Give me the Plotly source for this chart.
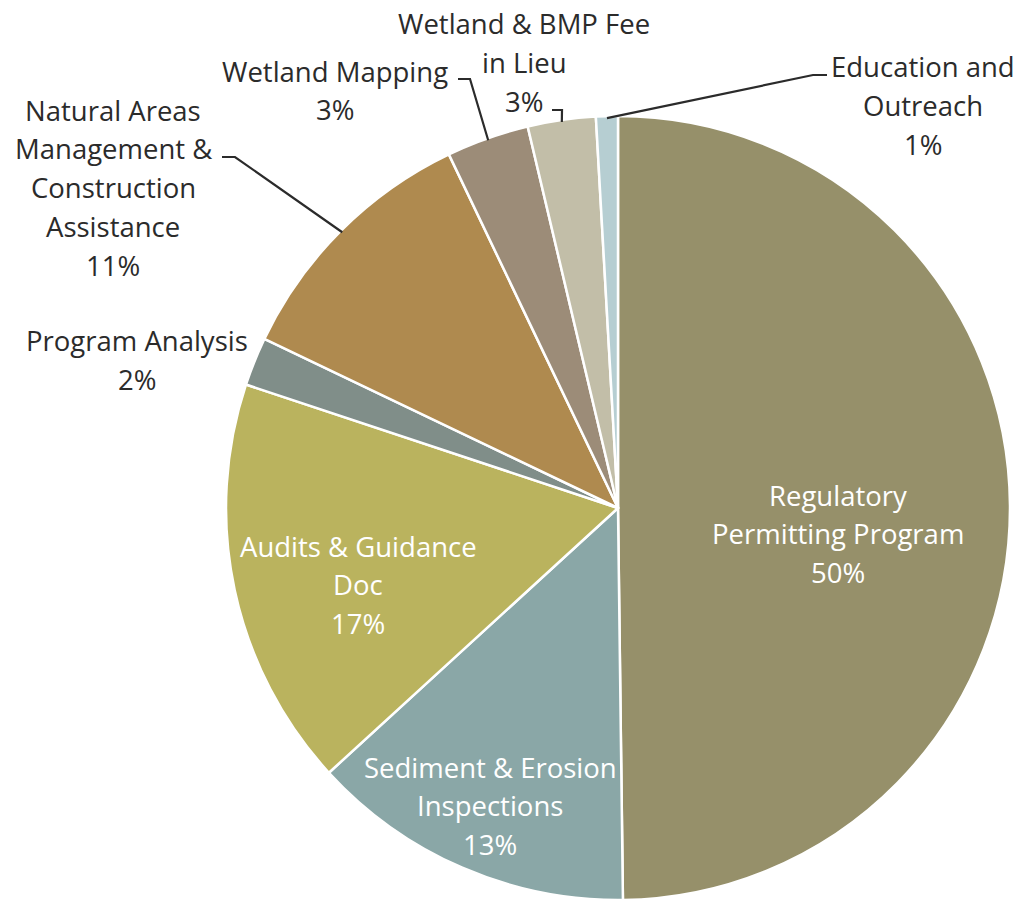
import math
import plotly.graph_objects as go

# ---- data ----
categories = ["Regulatory Permitting Program", "Sediment & Erosion Inspections",
              "Audits & Guidance Doc", "Program Analysis",
              "Natural Areas Management & Construction Assistance",
              "Wetland Mapping", "Wetland & BMP Fee in Lieu", "Education and Outreach"]
values = [49.8, 13.4, 16.9, 2.0, 10.8, 3.4, 2.8, 0.9]
colors = ["#96906A", "#8AA7A7", "#BAB35E", "#808E89", "#AF8A4F", "#9C8C78", "#C2BEA8", "#B6CED2"]
label_lines = [
    ["Regulatory", "Permitting Program"],
    ["Sediment & Erosion", "Inspections"],
    ["Audits & Guidance", "Doc"],
    ["Program Analysis"],
    ["Natural Areas", "Management &", "Construction", "Assistance"],
    ["Wetland Mapping"],
    ["Wetland & BMP Fee", "in Lieu"],
    ["Education and", "Outreach"],
]

W, H = 1018, 900
FONT = "Open Sans"
FS = 27.5
LINE = 38.8

def px(x):
    return x / W

def py(y):
    return 1 - y / H

# pie geometry (pixels)
dom_x = (224, 1012)
dom_y_top = 116
dom_y_bot = 900
cx = (dom_x[0] + dom_x[1]) / 2
r = (dom_y_bot - dom_y_top) / 2 - 2
cy = (dom_y_top + dom_y_bot) / 2

fig = go.Figure(go.Pie(
    labels=categories, values=values, sort=False, direction="clockwise", rotation=0,
    marker=dict(colors=colors, line=dict(color="white", width=2.5)),
    textinfo="none", hoverinfo="label+percent", showlegend=False,
    domain=dict(x=[px(dom_x[0]), px(dom_x[1])], y=[py(dom_y_bot), py(dom_y_top)]),
))

# label layout: (center x, first line y, text colour)
label_pos = [
    (838, 495, "white"),
    (490, 767, "white"),
    (358, 546, "white"),
    (137, 341, "#2B2B2B"),
    (113, 110, "#2B2B2B"),
    (335, 71, "#2B2B2B"),
    (524, 24, "#2B2B2B"),
    (923, 67, "#2B2B2B"),
]

total = sum(values)
annotations = []
for i, (lines, (lx, ly, col)) in enumerate(zip(label_lines, label_pos)):
    pct = f"{round(values[i] / total * 100):.0f}%"
    for k, t in enumerate(lines + [pct]):
        annotations.append(dict(
            x=px(lx), y=py(ly + k * LINE), xref="paper", yref="paper",
            text=t, showarrow=False, xanchor="center", yanchor="middle",
            font=dict(family=FONT, size=FS, color=col)))

# leader lines: (label end x, y, elbow x) for outside labels
leaders = {
    4: (222, 157, 235),
    5: (458, 79, 470),
    6: (552, 110, 562),
    7: (827, 75, 813),
}
cum = 0
shapes = []
for i, v in enumerate(values):
    mid = (cum + v / 2) / total
    cum += v
    if i in leaders:
        th = 2 * math.pi * mid
        ex = cx + r * math.sin(th)
        ey = cy - r * math.cos(th)
        lx, ly, bx = leaders[i]
        path = f"M {px(lx)},{py(ly)} L {px(bx)},{py(ly)} L {px(ex)},{py(ey)}"
        shapes.append(dict(type="path", path=path, xref="paper", yref="paper",
                           line=dict(color="#2B2B2B", width=2.2)))

fig.update_layout(
    width=W, height=H, margin=dict(l=0, r=0, t=0, b=0),
    paper_bgcolor="white", plot_bgcolor="white",
    annotations=annotations, shapes=shapes,
)
fig.write_html("out.html", config={"displayModeBar": False},
               post_script="document.body.style.margin='0';document.body.style.overflow='hidden';")
